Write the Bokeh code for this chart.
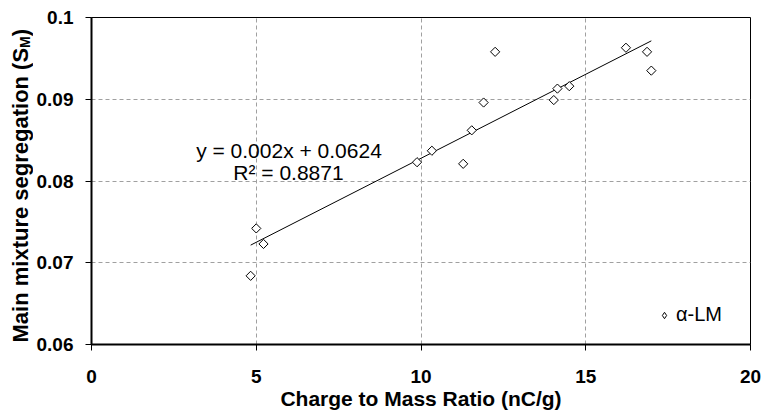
import numpy as np
from bokeh.plotting import figure
from bokeh.layouts import row
from bokeh.models import (Range1d, FixedTicker, Label, Legend, LegendItem,
                          CustomJSTickFormatter)
from bokeh.core.properties import value
from bokeh.embed import file_html
from bokeh.resources import INLINE

# ---- data ----
charge = [4.83, 5.00, 5.22, 9.88, 10.33, 11.28, 11.54, 11.90, 12.25,
          14.03, 14.14, 14.50, 16.22, 16.86, 16.99]
segregation = [0.0684, 0.0742, 0.0723, 0.0823, 0.0837, 0.0821, 0.0862, 0.0896,
               0.0958, 0.0899, 0.0913, 0.0916, 0.0963, 0.0958, 0.0935]
x_ticks = [0, 5, 10, 15, 20]
y_ticks = [0.06, 0.07, 0.08, 0.09, 0.10]
series_name = "α-LM"
eq_text = "y = 0.002x + 0.0624"
r2_text = "R² = 0.8871"
x_title = "Charge to Mass Ratio (nC/g)"
y_title_main = "Main mixture segregation (S"
y_title_sub = "M"
y_title_end = ")"

FONT = "Liberation Sans"
W, H = 766, 414
LEFT_W = 33          # strip that carries the y-axis title
FRAME_L, FRAME_R, FRAME_T, FRAME_B = 90, 750, 17, 344

# ---- narrow strip holding the y-axis title (with subscript) ----
pl = figure(width=LEFT_W, height=H, output_backend="svg", toolbar_location=None,
            x_range=Range1d(0, LEFT_W), y_range=Range1d(H - FRAME_B, H - FRAME_T),
            x_axis_type=None, y_axis_type=None,
            min_border_left=0, min_border_right=0, min_border_top=FRAME_T,
            min_border_bottom=H - FRAME_B)
pl.outline_line_color = None
pl.background_fill_color = "white"
pl.border_fill_color = "white"
pl.xgrid.visible = False
pl.ygrid.visible = False
pl.text(x=[19.9], y=[H - 342], text=[y_title_main], angle=np.pi / 2,
        text_align="left", text_baseline="alphabetic", text_font=value(FONT),
        text_font_size="22px", text_font_style="bold", text_color="black")
pl.text(x=[24.7], y=[H - 47.4], text=[y_title_sub], angle=np.pi / 2,
        text_align="left", text_baseline="alphabetic", text_font=value(FONT),
        text_font_size="14px", text_font_style="bold", text_color="black")
pl.text(x=[19.9], y=[H - 35.7], text=[y_title_end], angle=np.pi / 2,
        text_align="left", text_baseline="alphabetic", text_font=value(FONT),
        text_font_size="22px", text_font_style="bold", text_color="black")

# ---- main chart ----
p = figure(width=W - LEFT_W, height=H, output_backend="svg", toolbar_location=None,
           x_range=Range1d(0, 20), y_range=Range1d(0.06, 0.1),
           min_border_left=FRAME_L - LEFT_W, min_border_right=W - FRAME_R,
           min_border_top=FRAME_T, min_border_bottom=H - FRAME_B)
p.background_fill_color = "white"
p.border_fill_color = "white"
p.outline_line_color = "black"
p.outline_line_width = 1

for ax in (p.xaxis[0], p.yaxis[0]):
    ax.axis_line_width = 2
    ax.axis_line_color = "black"
    ax.major_tick_out = 6
    ax.major_tick_in = 0
    ax.major_tick_line_color = "black"
    ax.minor_tick_line_color = None
    ax.major_label_text_font = FONT
    ax.major_label_text_font_style = "bold"
    ax.major_label_text_font_size = "19px"
    ax.major_label_text_color = "black"
p.xaxis.ticker = FixedTicker(ticks=x_ticks)
p.yaxis.ticker = FixedTicker(ticks=y_ticks)
p.xaxis.major_label_standoff = 19
p.yaxis.major_label_standoff = 12
p.yaxis.formatter = CustomJSTickFormatter(code="return String(Math.round(tick * 100) / 100);")

p.xaxis.axis_label = x_title
p.xaxis.axis_label_text_font = FONT
p.xaxis.axis_label_text_font_style = "bold"
p.xaxis.axis_label_text_font_size = "21px"
p.xaxis.axis_label_text_color = "black"
p.xaxis.axis_label_standoff = 1

# grid
p.xgrid.ticker = FixedTicker(ticks=x_ticks)
p.ygrid.ticker = FixedTicker(ticks=y_ticks)
for g in (p.xgrid[0], p.ygrid[0]):
    g.grid_line_color = "#a0a0a0"
    g.grid_line_dash = "4 3"
    g.grid_line_width = 1

# trendline (least squares over the data)
xa = np.array(charge)
ya = np.array(segregation)
slope, intercept = np.polyfit(xa, ya, 1)
lx = [xa.min(), xa.max()]
ly = [slope * v + intercept for v in lx]
p.line(lx, ly, line_color="black", line_width=1)

# scatter points (open diamonds)
p.scatter(charge, segregation, marker="square", angle=np.pi / 4, size=6.5,
          fill_color="white", line_color="black", line_width=1)
# hidden twin renderer that only supplies the diamond key of the legend
key = p.scatter(charge, segregation, marker="diamond", fill_color="white",
                line_color="black", line_width=1, visible=False)

legend = Legend(items=[LegendItem(label=series_name, renderers=[key])],
                location=(565, 18), padding=0, margin=0, glyph_width=16,
                glyph_height=20, label_standoff=4, border_line_alpha=0,
                background_fill_alpha=0, label_text_font=FONT,
                label_text_font_size="20px", label_text_color="black")
p.add_layout(legend)

# equation labels
p.add_layout(Label(x=197.5, y=194.3, x_units="screen", y_units="screen",
                   text=eq_text, text_align="center", text_baseline="alphabetic",
                   text_font=FONT, text_font_size="21px", text_color="black"))
p.add_layout(Label(x=197, y=172, x_units="screen", y_units="screen",
                   text=r2_text, text_align="center", text_baseline="alphabetic",
                   text_font=FONT, text_font_size="21px", text_color="black"))

layout = row(pl, p)
open("out.html", "w").write(file_html(layout, INLINE))
